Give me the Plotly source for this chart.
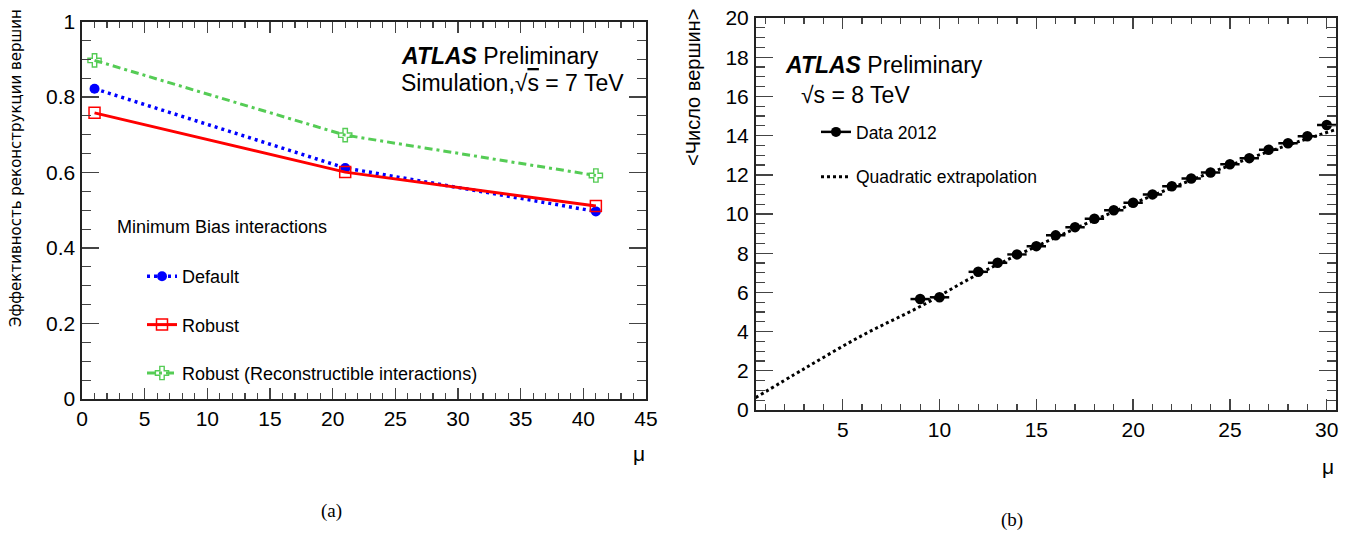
import plotly.graph_objects as go

W, H = 1354, 533

# ---- left panel data (vertex reconstruction efficiency vs mu) ----
mu_sim = [1, 21, 41]
eff_default = [0.822, 0.612, 0.497]
eff_robust = [0.758, 0.601, 0.511]
eff_recon = [0.897, 0.699, 0.592]

# ---- right panel data (<N vertices> vs mu, 2012) ----
mu_data = [9, 10, 12, 13, 14, 15, 16, 17, 18, 19, 20, 21, 22, 23, 24, 25, 26, 27, 28, 29, 30]
nvtx_data = [5.66, 5.75, 7.05, 7.51, 7.94, 8.36, 8.91, 9.33, 9.76, 10.19, 10.57,
             11.00, 11.42, 11.81, 12.12, 12.54, 12.85, 13.28, 13.61, 13.97, 14.54]
mu_halfwidth = [0.5] * len(mu_data)

# quadratic extrapolation curve
mu_fit = [0.5, 3, 6, 9, 12, 15, 18, 21, 24, 27, 30.5]
nvtx_fit = [0.63, 2.10, 3.80, 5.28, 6.93, 8.35, 9.69, 10.94, 12.11, 13.18, 14.32]

x_ticks_left = [0, 5, 10, 15, 20, 25, 30, 35, 40, 45]
y_ticks_left = [0, 0.2, 0.4, 0.6, 0.8, 1]
y_text_left = ["0", "0.2", "0.4", "0.6", "0.8", "1"]
x_ticks_right = [5, 10, 15, 20, 25, 30]
y_ticks_right = [0, 2, 4, 6, 8, 10, 12, 14, 16, 18, 20]


def px(x):
    return x / W


def py(y):
    return 1 - y / H


SANS = "Liberation Sans, Arial, Helvetica, sans-serif"
BLUE = "#0000ff"
RED = "#ff0000"
GREEN = "#55cc55"

fig = go.Figure()

fig.add_trace(go.Scatter(
    x=mu_sim, y=eff_default, mode="lines+markers", name="Default",
    line=dict(color=BLUE, width=3.5, dash="3px,4px"),
    marker=dict(symbol="circle", size=10, color=BLUE),
    xaxis="x", yaxis="y", legend="legend", legendgroup="a"))
fig.add_trace(go.Scatter(
    x=mu_sim, y=eff_robust, mode="lines+markers", name="Robust",
    line=dict(color=RED, width=3),
    marker=dict(symbol="square-open", size=11, color=RED, line=dict(width=1.5, color=RED)),
    xaxis="x", yaxis="y", legend="legend", legendgroup="b"))
fig.add_trace(go.Scatter(
    x=mu_sim, y=eff_recon, mode="lines+markers", name="Robust (Reconstructible interactions)",
    line=dict(color=GREEN, width=3, dash="8px,4px,3px,4px"),
    marker=dict(symbol="cross-open", size=11, color=GREEN, line=dict(width=1.4, color=GREEN)),
    xaxis="x", yaxis="y", legend="legend", legendgroup="c"))

# right panel
fig.add_trace(go.Scatter(
    x=mu_fit, y=nvtx_fit, mode="lines", name="Quadratic extrapolation",
    line=dict(color="black", width=3, dash="3px,3px", shape="spline"),
    xaxis="x2", yaxis="y2", legend="legend2", legendgroup="e", legendrank=2))
fig.add_trace(go.Scatter(
    x=mu_data, y=nvtx_data, mode="markers", showlegend=False,
    marker=dict(symbol="circle", size=10.5, color="black"),
    error_x=dict(type="data", array=mu_halfwidth, symmetric=True, color="black",
                 thickness=2.5, width=0),
    xaxis="x2", yaxis="y2"))
fig.add_trace(go.Scatter(
    x=[None], y=[None], mode="lines+markers", name="Data 2012",
    line=dict(color="black", width=2.5),
    marker=dict(symbol="circle", size=10, color="black"),
    xaxis="x2", yaxis="y2", legend="legend2", legendgroup="d", legendrank=1))

axis_common = dict(
    showline=True, linecolor="#222", linewidth=1.6, mirror="ticks",
    ticks="inside", tickcolor="#444", tickwidth=1.4,
    showgrid=False, zeroline=False, automargin=False,
    tickfont=dict(family=SANS, size=21, color="black"),
)

fig.update_layout(
    width=W, height=H,
    margin=dict(l=0, r=0, t=0, b=0, pad=0, autoexpand=False),
    paper_bgcolor="white", plot_bgcolor="white",
    xaxis=dict(axis_common, domain=[px(82), px(646)], range=[0, 45],
               tickvals=x_ticks_left, ticklen=11, anchor="y",
               minor=dict(ticks="inside", dtick=1, tick0=0, ticklen=6,
                          tickcolor="#444", tickwidth=1.2)),
    yaxis=dict(axis_common, domain=[py(399), py(21.5)], range=[0, 1],
               tickvals=y_ticks_left, ticktext=y_text_left, ticklen=17, anchor="x",
               ticklabelstandoff=1,
               minor=dict(ticks="inside", dtick=0.05, tick0=0, ticklen=9,
                          tickcolor="#444", tickwidth=1.2)),
    xaxis2=dict(axis_common, domain=[px(755.6), px(1336.4)], range=[0.5, 30.5],
                tickvals=x_ticks_right, ticklen=11, anchor="y2",
                minor=dict(ticks="inside", dtick=1, tick0=0, ticklen=6,
                           tickcolor="#444", tickwidth=1.2)),
    yaxis2=dict(axis_common, domain=[py(410), py(18)], range=[0, 20],
                tickvals=y_ticks_right, ticklen=17, anchor="x2",
                ticklabelstandoff=1,
                minor=dict(ticks="inside", dtick=0.5, tick0=0, ticklen=9,
                           tickcolor="#444", tickwidth=1.2)),
    legend=dict(x=px(142), y=py(258), xanchor="left", yanchor="top",
                font=dict(family=SANS, size=18, color="black"),
                bgcolor="rgba(0,0,0,0)", tracegroupgap=22, itemwidth=30,
                traceorder="grouped"),
    legend2=dict(x=px(816), y=py(114), xanchor="left", yanchor="top",
                 font=dict(family=SANS, size=17.5, color="black"),
                 bgcolor="rgba(0,0,0,0)", tracegroupgap=19, itemwidth=30,
                 traceorder="grouped"),
    showlegend=True,
)

ann = []


def text(x, y, s, size, family=SANS, xanchor="left", angle=0):
    ann.append(dict(x=px(x), y=py(y), xref="paper", yref="paper", text=s,
                    showarrow=False, xanchor=xanchor, yanchor="middle",
                    textangle=angle, font=dict(family=family, size=size, color="black")))


text(399, 56, "<b><i>ATLAS</i></b> Preliminary", 23)
text(399, 83, "Simulation,√<span style='text-decoration:overline'>s</span> = 7 TeV", 23)
text(115, 227, "Minimum Bias interactions", 18)
text(783, 65, "<b><i>ATLAS</i></b> Preliminary", 23)
text(799, 95, "√s = 8 TeV", 23)
text(16, 168, "Эффективность реконструкции вершин", 15, family="DejaVu Sans", xanchor="center", angle=-90)
text(693, 88, "&lt;Число вершин&gt;", 20, xanchor="center", angle=-90)
text(639, 453, "μ", 21, xanchor="center")
text(1328, 466, "μ", 21, xanchor="center")
text(331, 511, "(a)", 19, family="Liberation Serif, serif", xanchor="center")
text(1012, 520, "(b)", 19, family="Liberation Serif, serif", xanchor="center")

fig.update_layout(annotations=ann)

fig.write_html("out.html",
               config={"displayModeBar": False, "staticPlot": True},
               post_script="document.body.style.margin='0';document.body.style.overflow='hidden';")
